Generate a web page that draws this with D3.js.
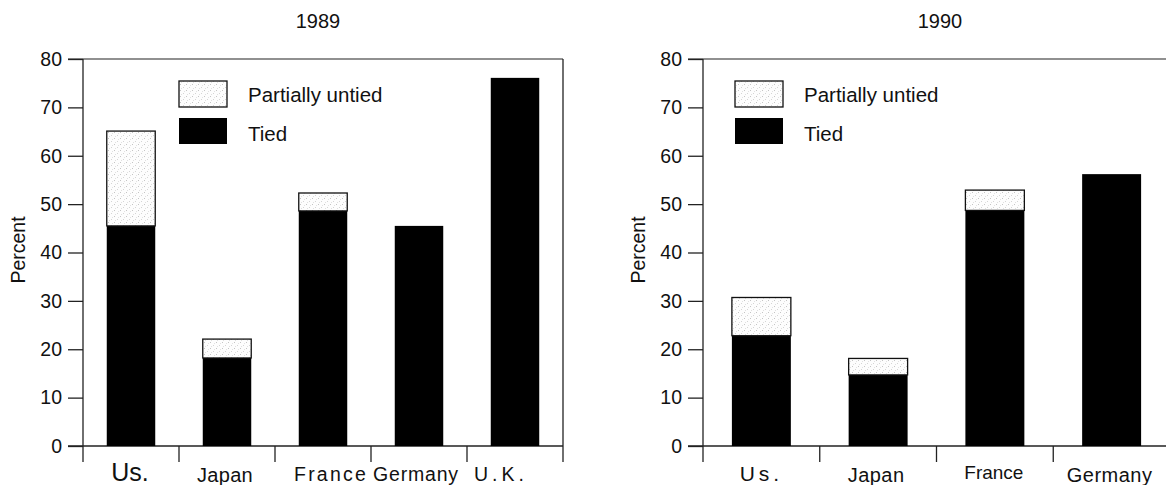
<!DOCTYPE html>
<html>
<head>
<meta charset="utf-8">
<script src="https://cdn.jsdelivr.net/npm/d3@7"></script>
<style>
  html, body { margin: 0; padding: 0; background: #fff; }
  svg { display: block; }
  text { font-family: "Liberation Sans", Arial, Helvetica, sans-serif; fill: #111; }
</style>
</head>
<body>
<svg id="chart" width="1166" height="485"></svg>
<script>
// ---- Data ----
const categories1989 = ["Us.", "Japan", "France", "Germany", "U.K."];
const tied1989 = [45.5, 18.2, 48.6, 45.5, 76.1];
const partial1989 = [19.6, 3.9, 3.7, 0, 0];

const categories1990 = ["Us.", "Japan", "France", "Germany"];
const tied1990 = [22.8, 14.7, 48.7, 56.2];
const partial1990 = [7.9, 3.4, 4.2, 0];

const yTicks = [0, 10, 20, 30, 40, 50, 60, 70, 80];
const legendLabels = ["Partially untied", "Tied"];
const yLabel = "Percent";

// ---- Styles for category labels (size, letter spacing, dx, dy) ----
const labelStyle1989 = [
  {size: 25, ls: 0, dx: -1, dy: 0},
  {size: 20, ls: 0.3, dx: -2, dy: 1},
  {size: 19.5, ls: 2.2, dx: 8, dy: 0},
  {size: 19.5, ls: 0.8, dx: -3, dy: 0},
  {size: 19.5, ls: 4, dx: -14, dy: 0}
];
const labelStyle1990 = [
  {size: 21, ls: 4, dx: 0, dy: 0},
  {size: 20, ls: 0.5, dx: -2, dy: 1},
  {size: 19, ls: 0, dx: -1, dy: -2},
  {size: 20, ls: 0.5, dx: -2, dy: 1}
];

const svg = d3.select("#chart");

// stipple pattern for "Partially untied"
const defs = svg.append("defs");
const pat = defs.append("pattern")
  .attr("id", "stipple").attr("patternUnits", "userSpaceOnUse")
  .attr("width", 6).attr("height", 6);
pat.append("rect").attr("width", 6).attr("height", 6).attr("fill", "#fdfdfd");
pat.append("rect").attr("x", 0).attr("y", 0).attr("width", 1).attr("height", 1).attr("fill", "#c4c4c4");
pat.append("rect").attr("x", 3).attr("y", 3).attr("width", 1).attr("height", 1).attr("fill", "#d4d4d4");
pat.append("rect").attr("x", 4).attr("y", 1).attr("width", 1).attr("height", 1).attr("fill", "#e2e2e2");
pat.append("rect").attr("x", 1).attr("y", 4).attr("width", 1).attr("height", 1).attr("fill", "#e0e0e0");

function drawPanel(opts) {
  const {title, titleX, cats, tied, partial, left, right, frameRight, legendX, labelStyle} = opts;
  const top = 59, bottom = 446, tickBottom = 462;
  const g = svg.append("g");

  const x = d3.scaleBand().domain(cats).range([left, right]).padding(0);
  const y = d3.scaleLinear().domain([0, 80]).range([bottom, top]);
  const bw = x.bandwidth();
  const barW = bw * 0.505;

  // title
  g.append("text").attr("x", titleX).attr("y", 28).attr("text-anchor", "middle")
    .attr("font-size", 20).text(title);

  // frame lines
  g.append("line").attr("x1", left - 15).attr("x2", frameRight).attr("y1", top).attr("y2", top)
    .attr("stroke", "#222").attr("stroke-width", 1.2);
  g.append("line").attr("x1", left - 15).attr("x2", frameRight).attr("y1", bottom).attr("y2", bottom)
    .attr("stroke", "#222").attr("stroke-width", 1.4);
  g.append("line").attr("x1", left).attr("x2", left).attr("y1", top).attr("y2", tickBottom)
    .attr("stroke", "#222").attr("stroke-width", 1.3);
  if (opts.rightBorder) {
    g.append("line").attr("x1", frameRight).attr("x2", frameRight).attr("y1", top).attr("y2", tickBottom)
      .attr("stroke", "#222").attr("stroke-width", 1.3);
  }

  // y axis ticks
  const yAxis = d3.axisLeft(y).tickValues(yTicks).tickSize(15).tickPadding(6).tickSizeOuter(0);
  const ya = g.append("g").attr("transform", `translate(${left},0)`).call(yAxis);
  ya.select(".domain").remove();
  ya.selectAll(".tick line").attr("stroke", "#222").attr("stroke-width", 1.3);
  ya.selectAll(".tick text").attr("font-size", 19.5).attr("fill", "#111")
    .attr("font-family", "Liberation Sans, Arial, sans-serif");

  // category divider ticks
  const dividers = cats.slice(1).map(c => x(c));
  g.selectAll(".div").data(dividers).join("line")
    .attr("x1", d => d).attr("x2", d => d).attr("y1", bottom).attr("y2", tickBottom)
    .attr("stroke", "#222").attr("stroke-width", 1.3);

  // y label
  g.append("text").attr("transform", `translate(${left - 58},${250}) rotate(-90)`)
    .attr("text-anchor", "middle").attr("font-size", 19.5).text(yLabel);

  // bars
  const data = cats.map((c, i) => ({c, tied: tied[i], partial: partial[i]}));
  g.selectAll(".tied").data(data).join("rect")
    .attr("x", d => x(d.c) + (bw - barW) / 2).attr("width", barW)
    .attr("y", d => y(d.tied)).attr("height", d => y(0) - y(d.tied))
    .attr("fill", "#000");
  g.selectAll(".partial").data(data.filter(d => d.partial > 0)).join("rect")
    .attr("x", d => x(d.c) + (bw - barW) / 2).attr("width", barW)
    .attr("y", d => y(d.tied + d.partial)).attr("height", d => y(d.tied) - y(d.tied + d.partial))
    .attr("fill", "url(#stipple)").attr("stroke", "#111").attr("stroke-width", 1.3);

  // category labels
  g.selectAll(".cat").data(data).join("text")
    .attr("x", (d, i) => x(d.c) + bw / 2 + labelStyle[i].dx)
    .attr("y", (d, i) => 481 + labelStyle[i].dy)
    .attr("text-anchor", "middle")
    .attr("font-size", (d, i) => labelStyle[i].size)
    .attr("letter-spacing", (d, i) => labelStyle[i].ls)
    .text(d => d.c);

  // legend
  const lg = g.append("g");
  lg.append("rect").attr("x", legendX).attr("y", 81).attr("width", 48).attr("height", 26)
    .attr("fill", "url(#stipple)").attr("stroke", "#111").attr("stroke-width", 1.3);
  lg.append("rect").attr("x", legendX).attr("y", 118).attr("width", 48).attr("height", 26)
    .attr("fill", "#000");
  lg.append("text").attr("x", legendX + 69).attr("y", 102).attr("font-size", 20.5).text(legendLabels[0]);
  lg.append("text").attr("x", legendX + 69).attr("y", 141).attr("font-size", 20.5).text(legendLabels[1]);
}

drawPanel({
  title: "1989", titleX: 318, cats: categories1989, tied: tied1989, partial: partial1989,
  left: 83, right: 563, frameRight: 563, rightBorder: true, legendX: 179, labelStyle: labelStyle1989
});
drawPanel({
  title: "1990", titleX: 940, cats: categories1990, tied: tied1990, partial: partial1990,
  left: 703, right: 1170, frameRight: 1166, rightBorder: false, legendX: 735, labelStyle: labelStyle1990
});
</script>
</body>
</html>
